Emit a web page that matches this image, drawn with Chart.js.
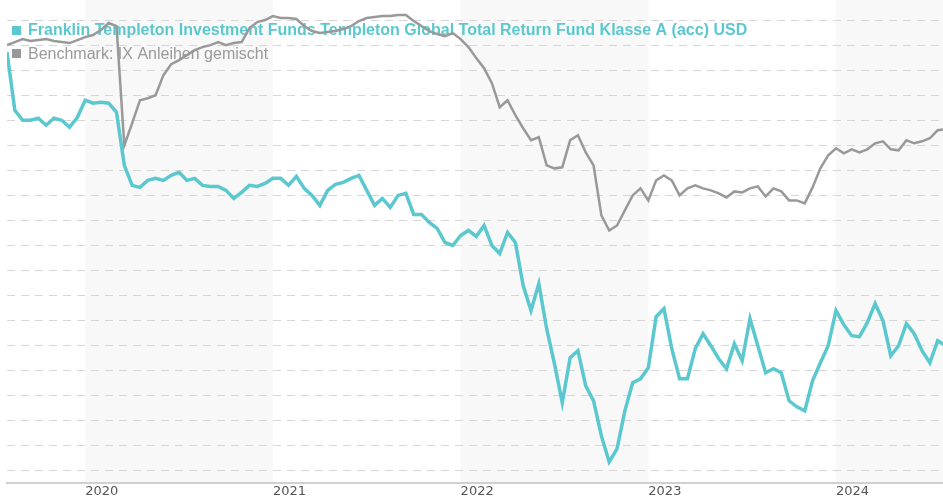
<!DOCTYPE html>
<html>
<head>
<meta charset="utf-8">
<script src="https://cdn.jsdelivr.net/npm/chart.js@4"></script>
<style>
  html, body { margin: 0; padding: 0; background: #fff; }
  #wrap { width: 943px; height: 500px; position: relative; }
</style>
</head>
<body>
<div id="wrap"><canvas id="perf"></canvas></div>
<script>
var fundName = "Franklin Templeton Investment Funds Templeton Global Total Return Fund Klasse A (acc) USD";
var benchName = "Benchmark: IX Anleihen gemischt";
var yearTicks = [2020, 2021, 2022, 2023, 2024];
var shadedYears = [2020, 2022, 2024];

// values, one every half month from 1 Aug 2019
var fund = [
  41.8, 36.0, 35.0, 35.0, 35.2, 34.5, 35.2, 35.0, 34.3, 35.3,
  37.0, 36.7, 36.8, 36.7, 35.8, 30.5, 28.5, 28.3, 29.0, 29.2,
  29.0, 29.5, 29.8, 29.0, 29.2, 28.5, 28.4, 28.4, 28.0, 27.2,
  27.8, 28.5, 28.4, 28.7, 29.2, 29.2, 28.5, 29.4, 28.2, 27.5,
  26.5, 28.0, 28.6, 28.8, 29.2, 29.5, 28.0, 26.5, 27.2, 26.3,
  27.5, 27.7, 25.6, 25.6, 24.8, 24.2, 22.8, 22.5, 23.5, 24.0,
  23.4, 24.5, 22.5, 21.7, 23.8, 22.8, 18.5, 16.0, 18.7, 14.2,
  10.7, 6.8, 11.3, 12.0, 8.5, 7.0, 3.5, 0.9, 2.2, 6.0,
  8.8, 9.2, 10.3, 15.4, 16.2, 12.2, 9.2, 9.2, 12.2, 13.7,
  12.5, 11.2, 10.2, 12.7, 11.0, 15.2, 12.5, 9.8, 10.2, 9.8,
  7.0, 6.4, 6.0, 9.0, 10.8, 12.5, 16.0, 14.6, 13.5, 13.4,
  14.8, 16.7, 15.0, 11.5, 12.5, 14.7, 13.7, 12.0, 10.8, 13.0,
  12.5
];
var bench = [
  42.5, 42.8, 43.1, 42.9, 43.0, 43.1, 42.9, 42.8, 42.7, 43.0,
  43.3, 43.5, 44.0, 44.7, 44.4, 32.5, 34.7, 37.0, 37.2, 37.5,
  39.5, 40.6, 41.0, 41.5, 42.0, 42.3, 42.5, 42.8, 42.5, 42.7,
  42.8, 44.2, 44.8, 45.0, 45.4, 45.2, 45.2, 45.1, 44.4, 43.9,
  43.7, 43.8, 43.9, 44.1, 44.4, 44.9, 45.2, 45.3, 45.4, 45.4,
  45.5, 45.5, 44.9, 44.4, 43.9, 43.6, 43.4, 43.7, 43.1, 42.3,
  41.2, 40.2, 38.7, 36.3, 37.0, 35.5, 34.2, 33.0, 33.3, 30.5,
  30.2, 30.3, 33.0, 33.5, 31.8, 30.5, 25.5, 24.0, 24.5, 26.0,
  27.5, 28.2, 27.0, 29.0, 29.5, 29.0, 27.5, 28.2, 28.5, 28.2,
  28.0, 27.7, 27.3, 27.9, 27.8, 28.2, 28.4, 27.4, 28.2, 27.9,
  27.0, 27.0, 26.7, 28.3, 30.2, 31.5, 32.2, 31.7, 32.1, 31.8,
  32.1, 32.7, 32.9, 32.1, 32.0, 33.0, 32.7, 32.9, 33.2, 34.0,
  34.1
];

// dates as decimal years: 1st and 16th of each month
var dates = [];
for (var i = 0; i < fund.length; i++) {
  var m = 7 + Math.floor(i / 2);
  dates.push(2019 + m / 12 + (i % 2) / 24);
}

function points(vals) {
  return vals.map(function (v, i) { return { x: dates[i], y: v }; });
}

var TEAL = "#5bc8cf";
var GREY = "#999999";

// light grey band behind every second year
var yearBands = {
  id: "yearBands",
  beforeDraw: function (chart) {
    var c = chart.ctx, a = chart.chartArea, xs = chart.scales.x;
    c.save();
    c.fillStyle = "#f8f8f8";
    shadedYears.forEach(function (y) {
      var x1 = Math.max(a.left, xs.getPixelForValue(y));
      var x2 = Math.min(a.right, xs.getPixelForValue(y + 1));
      if (x2 > x1) c.fillRect(x1, 0, x2 - x1, a.bottom);
    });
    c.restore();
  }
};

// legend drawn inside the plot, under the lines
var innerLegend = {
  id: "innerLegend",
  beforeDatasetsDraw: function (chart) {
    var c = chart.ctx;
    c.save();
    c.textBaseline = "alphabetic";
    c.fillStyle = TEAL;
    c.fillRect(12, 26, 9, 9);
    c.font = "bold 16px 'Liberation Sans', Arial, sans-serif";
    c.fillText(fundName, 28, 35);
    c.fillStyle = GREY;
    c.fillRect(12, 49, 9, 9);
    c.font = "16px 'Liberation Sans', Arial, sans-serif";
    c.fillText(benchName, 28, 59);
    c.restore();
  }
};

new Chart(document.getElementById("perf"), {
  type: "line",
  data: {
    datasets: [
      {
        label: fundName,
        data: points(fund),
        borderColor: TEAL,
        borderWidth: 3.5,
        pointRadius: 0,
        tension: 0
      },
      {
        label: benchName,
        data: points(bench),
        borderColor: GREY,
        borderWidth: 2.5,
        pointRadius: 0,
        tension: 0
      }
    ]
  },
  options: {
    responsive: true,
    maintainAspectRatio: false,
    animation: false,
    layout: { padding: { left: 7, right: 0, top: 0, bottom: 0 } },
    plugins: { legend: { display: false }, tooltip: { enabled: false } },
    scales: {
      x: {
        type: "linear",
        min: 2019.5833,
        max: 2024.57,
        afterBuildTicks: function (s) {
          s.ticks = yearTicks.map(function (v) { return { value: v }; });
        },
        ticks: {
          align: "start",
          autoSkip: false,
          maxRotation: 0,
          padding: 2,
          color: "#555",
          font: { family: "'DejaVu Sans', sans-serif", size: 13, lineHeight: 1 },
          callback: function (v) { return String(v); }
        },
        grid: { display: false, drawTicks: false },
        border: { display: true, color: "#d0d0d0", width: 2 }
      },
      y: {
        min: -1.2,
        max: 47,
        afterBuildTicks: function (s) {
          var t = [];
          for (var v = 0; v <= 45; v += 2.5) t.push({ value: v });
          s.ticks = t;
        },
        ticks: { display: false },
        grid: { color: "#d6d6d6", lineWidth: 1, drawTicks: false },
        border: { display: false, dash: [8, 6] }
      }
    }
  },
  plugins: [yearBands, innerLegend]
});
</script>
</body>
</html>
